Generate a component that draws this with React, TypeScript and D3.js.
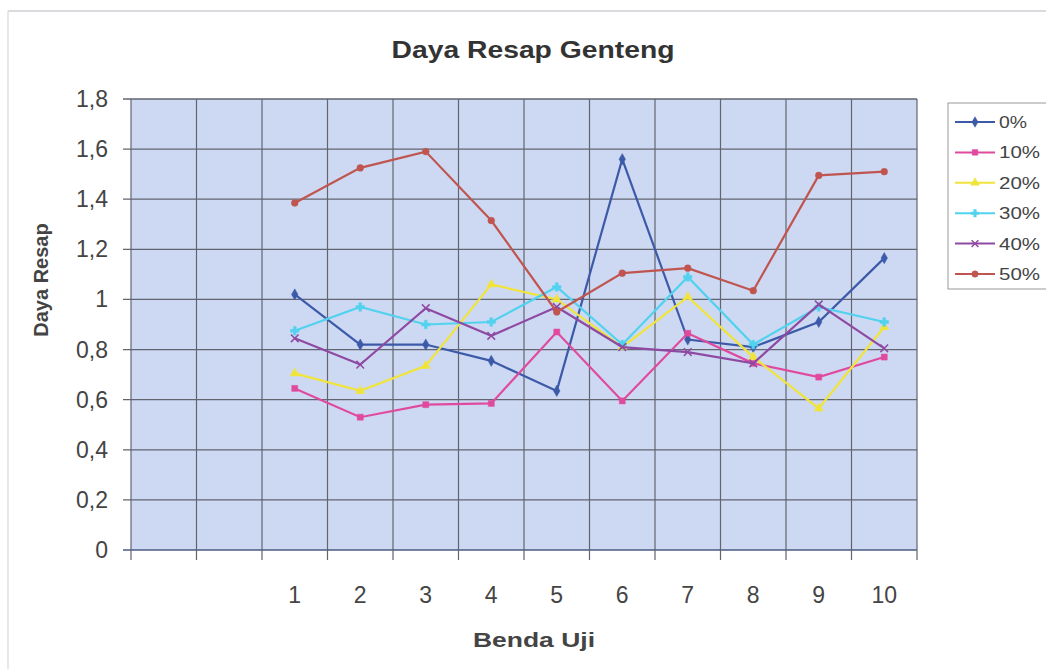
import React from "react";
import * as d3 from "d3";

const categories = ["", "", "1", "2", "3", "4", "5", "6", "7", "8", "9", "10"];
const seriesNames = ["0%", "10%", "20%", "30%", "40%", "50%"];
const s0 = [1.02, 0.82, 0.82, 0.755, 0.635, 1.56, 0.84, 0.81, 0.91, 1.165];
const s10 = [0.645, 0.53, 0.58, 0.585, 0.87, 0.595, 0.865, 0.745, 0.69, 0.77];
const s20 = [0.705, 0.635, 0.735, 1.06, 1.0, 0.81, 1.01, 0.77, 0.565, 0.89];
const s30 = [0.875, 0.97, 0.9, 0.91, 1.05, 0.82, 1.09, 0.82, 0.97, 0.91];
const s40 = [0.845, 0.74, 0.965, 0.855, 0.97, 0.81, 0.79, 0.745, 0.98, 0.805];
const s50 = [1.385, 1.525, 1.59, 1.315, 0.95, 1.105, 1.125, 1.035, 1.495, 1.51];
const yTicks = [0, 0.2, 0.4, 0.6, 0.8, 1, 1.2, 1.4, 1.6, 1.8];

const colors = ["#3c5aa8", "#e04a9e", "#f0e43a", "#52d2ee", "#8e4aa2", "#c0554f"];
const symbols = [d3.symbolDiamond, d3.symbolSquare, d3.symbolTriangle, d3.symbolCross, d3.symbolX, d3.symbolCircle];
const allSeries = [s0, s10, s20, s30, s40, s50];

const W = 1046, H = 669;
const L = 131, R = 917, T = 99, B = 550;
const FONT = "Liberation Sans, Arial, sans-serif";

export default function App() {
  const x = d3.scaleBand<number>().domain(categories.map((_, i) => i)).range([L, R]).padding(0);
  const y = d3.scaleLinear().domain([0, 1.8]).range([B, T]);
  const cx = (i: number) => (x(i) as number) + x.bandwidth() / 2;
  const line = d3.line<[number, number]>().x((d) => d[0]).y((d) => d[1]);
  const fmt = (v: number) => String(Math.round(v * 10) / 10).replace(".", ",");
  const boundaries = d3.range(categories.length + 1).map((i) => L + i * x.bandwidth());

  return (
    <svg width={W} height={H} style={{ position: "absolute", left: 0, top: 0, background: "#fff" }}>
      <rect x={0} y={0} width={W} height={H} fill="#fff" />
      <line x1={8} y1={11} x2={W} y2={11} stroke="#b8b8c0" strokeWidth={1.2} />
      <line x1={8} y1={11} x2={8} y2={H} stroke="#d8d8dc" strokeWidth={1.2} />
      <text x={533} y={58} textAnchor="middle" fontFamily={FONT} fontWeight="bold" fontSize={23}
        fill="#333" textLength={283} lengthAdjust="spacingAndGlyphs">Daya Resap Genteng</text>
      <rect x={L} y={T} width={R - L} height={B - T} fill="#cdd9f3" />
      {yTicks.map((t) => (
        <line key={"h" + t} x1={L - 8} x2={R} y1={y(t)} y2={y(t)} stroke={t === 0 ? "#4a5a80" : "#626470"} strokeWidth={1.3} />
      ))}
      {boundaries.map((bx, i) => (
        <line key={"v" + i} x1={bx} x2={bx} y1={T} y2={B + 10} stroke="#626470" strokeWidth={1.2} />
      ))}
      {yTicks.map((t) => (
        <text key={"yl" + t} x={108} y={y(t) + 8} textAnchor="end" fontFamily={FONT} fontSize={23} fill="#444">{fmt(t)}</text>
      ))}
      {categories.map((c, i) => (
        <text key={"xl" + i} x={cx(i)} y={603} textAnchor="middle" fontFamily={FONT} fontSize={23} fill="#444">{c}</text>
      ))}
      <text transform="translate(48,280) rotate(-90)" textAnchor="middle" fontFamily={FONT} fontWeight="bold"
        fontSize={20} fill="#444">Daya Resap</text>
      <text x={534} y={647} textAnchor="middle" fontFamily={FONT} fontWeight="bold" fontSize={20}
        fill="#444" textLength={122} lengthAdjust="spacingAndGlyphs">Benda Uji</text>
      {allSeries.map((s, k) => {
        const pts: [number, number][] = s.map((v, j) => [cx(j + 2), y(v)]);
        return (
          <g key={"s" + k}>
            <path d={line(pts) || ""} fill="none" stroke={colors[k]} strokeWidth={2.2} />
            {pts.map((p, j) => (
              <path key={j} d={d3.symbol().type(symbols[k]).size(k >= 3 && k <= 4 ? 40 : 36)() || ""}
                transform={`translate(${p[0]},${p[1]})`} fill={colors[k]} stroke={colors[k]} strokeWidth={k === 4 ? 1.5 : 0.5} />
            ))}
          </g>
        );
      })}
      <rect x={948} y={103} width={120} height={186} fill="#fff" stroke="#999" strokeWidth={1} />
      {seriesNames.map((n, k) => {
        const ly = 122 + k * 30.4;
        return (
          <g key={"lg" + k}>
            <line x1={955} x2={995} y1={ly} y2={ly} stroke={colors[k]} strokeWidth={2} />
            <path d={d3.symbol().type(symbols[k]).size(32)() || ""} transform={`translate(975,${ly})`}
              fill={colors[k]} stroke={colors[k]} strokeWidth={k === 4 ? 1.5 : 0.5} />
            <text x={999} y={ly + 6} fontFamily={FONT} fontSize={17} fill="#444"
              textLength={n.length === 2 ? 28 : 41} lengthAdjust="spacingAndGlyphs">{n}</text>
          </g>
        );
      })}
    </svg>
  );
}
